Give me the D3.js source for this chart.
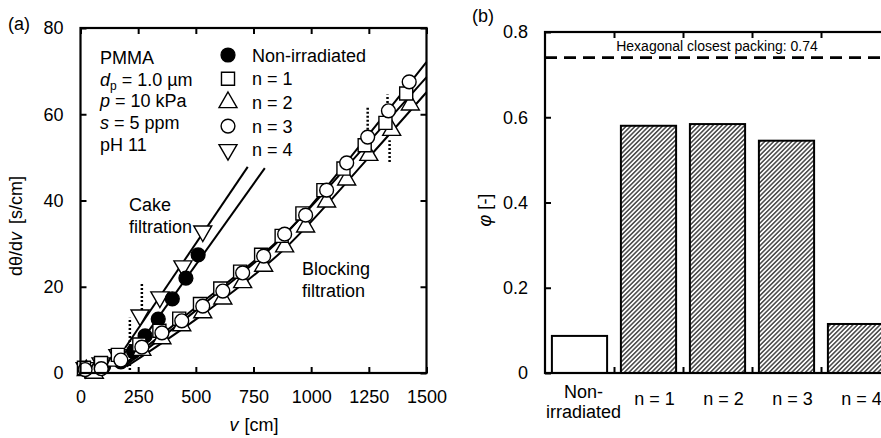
<!DOCTYPE html>
<meta charset="utf-8">
<head>
<style>
 body { margin: 0; background: #fff; }
 svg text { font-family: "Liberation Sans", Arial, sans-serif; fill: #000; }
</style>
</head>
<body>
<div id="chart"></div>
<script src="https://d3js.org/d3.v7.min.js"></script>
<script>
// ---- panel (a) data: v [cm], dtheta/dv [s/cm]
const nonIrradiated = [[20,0.9],[100,1.5],[175,2.6],[230,5.0],[280,8.6],[337,12.5],[398,17.2],[457,22.0],[510,27.4]];
const n1 = [[15,1.2],[89,2.3],[162,4.2],[255,6.6],[342,9.8],[428,12.6],[518,16.0],[606,19.6],[692,23.5],[783,27.4],[872,31.8],[962,37.0],[1053,42.4],[1140,47.4],[1232,52.8],[1322,58.0],[1412,64.8]];
const n2 = [[25,0.6],[60,0.0],[150,2.8],[266,5.3],[353,8.0],[439,11.0],[530,14.0],[617,17.2],[703,21.0],[794,24.8],[885,29.3],[976,33.9],[1067,39.7],[1154,44.8],[1250,50.5],[1349,56.3],[1430,62.2]];
const n3 = [[20,0.8],[90,1.0],[175,3.0],[266,6.0],[353,9.3],[439,12.1],[530,15.5],[617,19.0],[703,23.2],[794,27.1],[885,32.2],[976,36.6],[1067,42.4],[1154,48.7],[1245,54.7],[1335,60.8],[1425,67.5]];
const n4 = [[20,1.2],[89,2.3],[162,4.2],[258,13.4],[344,17.6],[444,24.8],[530,32.9]];

// fitted lines
const cakeN4 = [[193,5.8],[725,47.8]];
const cakeNon = [[236,5.3],[799,47.5]];
const blockN3 = [[190,1.5],[530,15.8],[885,32.0],[1245,55.0],[1500,72.1]];
const blockN1 = [[190,2.0],[518,16.0],[872,31.5],[1232,52.5],[1500,68.6]];
const blockN2 = [[200,1.5],[530,13.6],[885,28.8],[1250,50.0],[1500,65.1]];

// dotted transition markers: [v, yFrom, yTo]
const transitions = [[214,0.7,12.8],[266,14.6,20.9],[1245,56.4,61.7],[1340,48.9,54.0],[1331,62.6,64.6]];

const vTicks = [0,250,500,750,1000,1250,1500];
const dTicks = [0,20,40,60,80];
const conditions = ["PMMA","d|p| = 1.0 µm","p| = 10 kPa","s| = 5 ppm","pH 11"];
const legendLabels = ["Non-irradiated","n = 1","n = 2","n = 3","n = 4"];

// ---- panel (b) data
const categories = ["Non-irradiated","n = 1","n = 2","n = 3","n = 4"];
const packing = [0.087,0.580,0.584,0.545,0.115];
const hcp = 0.74;
const phiTicks = [0,0.2,0.4,0.6,0.8];

const W = 881, H = 438;
const svg = d3.select("#chart").append("svg")
    .attr("width", W).attr("height", H)
    .attr("viewBox", [0, 0, W, H]);

function styleAxis(g) {
    g.select(".domain").remove();
    g.selectAll(".tick line").attr("stroke", "#000").attr("stroke-width", 2);
    g.selectAll("text").attr("font-size", 18).attr("fill", "#000");
    g.attr("font-family", null).attr("font-size", null);
}

// ================= panel (a)
const x = d3.scaleLinear().domain([0, 1500]).range([80.5, 426.5]);
const y = d3.scaleLinear().domain([0, 80]).range([373, 28]);

const ga = svg.append("g");

ga.append("g").attr("transform", `translate(0,${y(0)})`)
  .call(d3.axisBottom(x).tickValues(vTicks).tickSize(-6).tickPadding(17).tickFormat(d3.format("d")))
  .call(styleAxis);
ga.append("g").attr("transform", `translate(0,${y(80)})`)
  .call(d3.axisTop(x).tickValues(vTicks).tickSize(-6).tickFormat(""))
  .call(styleAxis);
ga.append("g").attr("transform", `translate(${x(0)},0)`)
  .call(d3.axisLeft(y).tickValues(dTicks).tickSize(-6).tickPadding(17))
  .call(styleAxis);
ga.append("g").attr("transform", `translate(${x(1500)},0)`)
  .call(d3.axisRight(y).tickValues(dTicks).tickSize(-6).tickFormat(""))
  .call(styleAxis);

const line = d3.line().x(d => x(d[0])).y(d => y(d[1]));
const curve = d3.line().x(d => x(d[0])).y(d => y(d[1])).curve(d3.curveMonotoneX);

ga.append("g").attr("fill", "none").attr("stroke", "#000").attr("stroke-width", 2)
  .selectAll("path").data([cakeN4, cakeNon]).join("path").attr("d", line);
ga.append("g").attr("fill", "none").attr("stroke", "#000").attr("stroke-width", 2)
  .selectAll("path").data([blockN3, blockN1, blockN2]).join("path").attr("d", curve);

ga.append("g").attr("stroke", "#000").attr("stroke-width", 2.5).attr("stroke-dasharray", "2,2")
  .selectAll("line").data(transitions).join("line")
  .attr("x1", d => x(d[0])).attr("x2", d => x(d[0]))
  .attr("y1", d => y(d[1])).attr("y2", d => y(d[2]));

const sym = {
    filled: d3.symbol(d3.symbolCircle, 150)(),
    square: d3.symbol(d3.symbolSquare, 170)(),
    tri: d3.symbol(d3.symbolTriangle, 140)(),
    circle: d3.symbol(d3.symbolCircle, 150)(),
    inv: d3.symbol(d3.symbolTriangle, 140)()
};
const series = [
    {data: n4, shape: "inv", fill: "#fff"},
    {data: nonIrradiated, shape: "filled", fill: "#000"},
    {data: n2, shape: "tri", fill: "#fff"},
    {data: n1, shape: "square", fill: "#fff"},
    {data: n3, shape: "circle", fill: "#fff"}
];
function markerTransform(shape, px, py) {
    return shape === "inv" ? `translate(${px},${py}) rotate(180)` : `translate(${px},${py})`;
}
series.forEach(s => {
    ga.append("g").selectAll("path").data(s.data).join("path")
      .attr("d", sym[s.shape])
      .attr("transform", d => markerTransform(s.shape, x(d[0]), y(d[1])))
      .attr("fill", s.fill).attr("stroke", "#000").attr("stroke-width", 1.4);
});

// conditions text block
const cond = ga.append("text").attr("font-size", 18);
conditions.forEach((c, i) => {
    const t = cond.append("tspan").attr("x", 100).attr("y", 64 + i * 21.7);
    const parts = c.split("|");
    if (parts.length === 1) { t.text(c); return; }
    if (parts.length === 3) {
        t.append("tspan").attr("font-style", "italic").text(parts[0]);
        t.append("tspan").attr("font-size", 12).attr("dy", 4).text(parts[1]);
        t.append("tspan").attr("dy", -4).text(parts[2]);
    } else {
        t.append("tspan").attr("font-style", "italic").text(parts[0]);
        t.append("tspan").text(parts[1]);
    }
});

// legend
const legShapes = ["filled", "square", "tri", "circle", "inv"];
const leg = ga.append("g");
legendLabels.forEach((l, i) => {
    const cy = 55 + i * 23.7;
    leg.append("path").attr("d", sym[legShapes[i]])
       .attr("transform", markerTransform(legShapes[i], 228, cy))
       .attr("fill", i === 0 ? "#000" : "#fff").attr("stroke", "#000").attr("stroke-width", 1.4);
    leg.append("text").attr("x", 252).attr("y", cy + 6.5).attr("font-size", 18).text(l);
});

ga.append("text").attr("font-size", 18).attr("x", 129).attr("y", 211).text("Cake");
ga.append("text").attr("font-size", 18).attr("x", 129).attr("y", 233).text("filtration");
ga.append("text").attr("font-size", 18).attr("x", 302).attr("y", 275).text("Blocking");
ga.append("text").attr("font-size", 18).attr("x", 302).attr("y", 297).text("filtration");

// axis titles
const xt = ga.append("text").attr("font-size", 18).attr("x", 254).attr("y", 431).attr("text-anchor", "middle");
xt.append("tspan").attr("font-style", "italic").text("v");
xt.append("tspan").attr("dx", 6).text("[cm]");
const yt = ga.append("text").attr("font-size", 18).attr("text-anchor", "middle")
    .attr("transform", "translate(22,226) rotate(-90)");
yt.append("tspan").text("dθ/d");
yt.append("tspan").attr("font-style", "italic").text("v");
yt.append("tspan").attr("dx", 8).text("[s/cm]");

svg.append("text").attr("font-size", 18).attr("x", 8).attr("y", 30).text("(a)");

// frame
ga.append("rect").attr("x", x(0)).attr("y", y(80)).attr("width", x(1500) - x(0)).attr("height", y(0) - y(80))
  .attr("fill", "none").attr("stroke", "#000").attr("stroke-width", 2.2);

// ================= panel (b)
const defs = svg.append("defs");
const pat = defs.append("pattern").attr("id", "hatch").attr("patternUnits", "userSpaceOnUse")
    .attr("width", 3.2).attr("height", 3.2).attr("patternTransform", "rotate(45)");
pat.append("rect").attr("width", 3.2).attr("height", 3.2).attr("fill", "#fff");
pat.append("line").attr("x1", 0.8).attr("x2", 0.8).attr("y1", 0).attr("y2", 3.2)
   .attr("stroke", "#000").attr("stroke-width", 1.1);

const xb = d3.scaleBand().domain(categories).range([545, 890]).padding(0);
const yb = d3.scaleLinear().domain([0, 0.8]).range([373, 32]);
const gb = svg.append("g");
const barW = xb.bandwidth() * 0.8;

gb.selectAll("rect.bar").data(categories).join("rect").attr("class", "bar")
  .attr("x", d => xb(d) + (xb.bandwidth() - barW) / 2)
  .attr("width", barW)
  .attr("y", (d, i) => yb(packing[i]))
  .attr("height", (d, i) => yb(0) - yb(packing[i]))
  .attr("fill", (d, i) => i === 0 ? "#fff" : "url(#hatch)")
  .attr("stroke", "#000").attr("stroke-width", 2);

const fmt = d => d === 0 ? "0" : d3.format(".1f")(d);
gb.append("g").attr("transform", `translate(545,0)`)
  .call(d3.axisLeft(yb).tickValues(phiTicks).tickSize(-6).tickPadding(17).tickFormat(fmt))
  .call(styleAxis);
const sepTicks = categories.slice(1).map(c => xb(c)).concat([890]);
gb.append("g").attr("transform", `translate(0,${yb(0)})`)
  .call(d3.axisBottom(d3.scaleIdentity()).tickValues(sepTicks).tickSize(-6).tickFormat(""))
  .call(styleAxis);
gb.append("g").attr("transform", `translate(0,${yb(0.8)})`)
  .call(d3.axisTop(d3.scaleIdentity()).tickValues(sepTicks).tickSize(-6).tickFormat(""))
  .call(styleAxis);

gb.append("line").attr("x1", 545).attr("x2", 890).attr("y1", yb(hcp)).attr("y2", yb(hcp))
  .attr("stroke", "#000").attr("stroke-width", 2.6).attr("stroke-dasharray", "12,7");
gb.append("text").attr("font-size", 14).attr("text-anchor", "middle").attr("x", 717).attr("y", 51)
  .text("Hexagonal closest packing: " + hcp);

// category labels
categories.forEach((c, i) => {
    const cx = xb(c) + xb.bandwidth() / 2 + (i === 0 ? 4 : 6);
    if (c === "Non-irradiated") {
        gb.append("text").attr("font-size", 18).attr("text-anchor", "middle").attr("x", cx).attr("y", 398).text("Non-");
        gb.append("text").attr("font-size", 18).attr("text-anchor", "middle").attr("x", cx).attr("y", 418).text("irradiated");
    } else {
        gb.append("text").attr("font-size", 18).attr("text-anchor", "middle").attr("x", cx).attr("y", 405).text(c);
    }
});

const pt = gb.append("text").attr("font-size", 18).attr("text-anchor", "middle")
    .attr("transform", "translate(491,210) rotate(-90)");
pt.append("tspan").attr("font-style", "italic").text("φ");
pt.append("tspan").attr("dx", 5).text("[-]");

gb.append("rect").attr("x", 545).attr("y", yb(0.8)).attr("width", 890 - 545).attr("height", yb(0) - yb(0.8))
  .attr("fill", "none").attr("stroke", "#000").attr("stroke-width", 2.2);

svg.append("text").attr("font-size", 18).attr("x", 472).attr("y", 22).text("(b)");
</script>
</body>
